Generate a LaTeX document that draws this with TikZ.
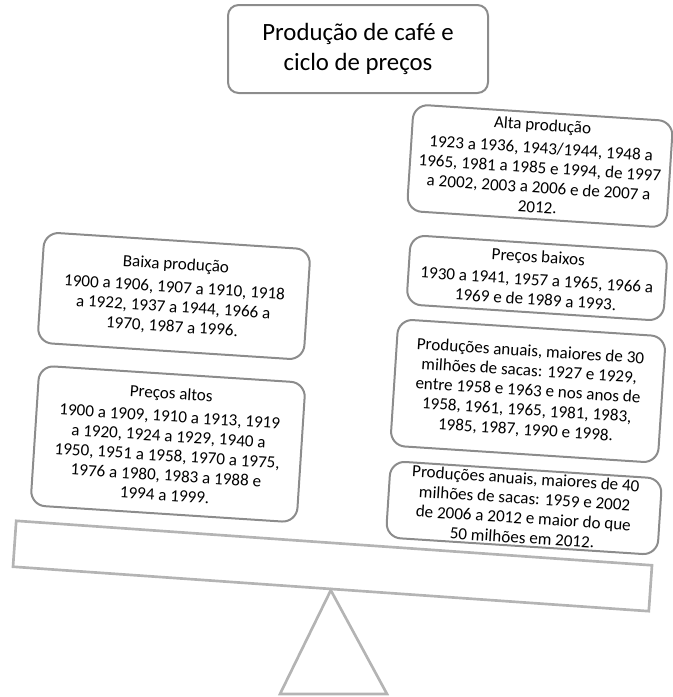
\documentclass[tikz,border=0pt]{standalone}
\usepackage{fontspec}
\setmainfont{Carlito}
\usepackage{tikz}
\definecolor{boxgray}{HTML}{8C8C8C}
\definecolor{plankgray}{HTML}{B4B4B4}
\tikzstyle{titlebox}=[rectangle, draw=boxgray, line width=1.5pt, rounded corners=8pt, align=center, font=\fontsize{18.6}{22.5}\selectfont]
\tikzstyle{databox}=[rectangle, draw=boxgray, line width=1.5pt, rounded corners=11pt, align=center, rotate=-3.7, inner sep=2pt, font=\fontsize{12.8}{14.8}\selectfont]
\tikzstyle{plankline}=[draw=plankgray, line width=2pt]

\begin{document}
\begin{tikzpicture}[x=0.75pt, y=-0.75pt]
                    \useasboundingbox (0,0) rectangle (673,697);
                    \node[titlebox, minimum width=195pt, minimum height=66pt] (title) at (358, 49) {Produção de café e\\ciclo de preços};
                    \node[databox, minimum width=195pt, minimum height=80pt] (alta) at (540, 166) {Alta produção\\[2.5pt]1923 a 1936, 1943/1944, 1948 a\\1965, 1981 a 1985 e 1994, de 1997\\a 2002, 2003 a 2006 e de 2007 a\\2012.};
                    \node[databox, minimum width=193pt, minimum height=52pt] (baixos) at (537, 278) {Preços baixos\\[2.5pt]1930 a 1941, 1957 a 1965, 1966 a\\1969 e de 1989 a 1993.};
                    \node[databox, minimum width=201pt, minimum height=95pt] (p30) at (528, 391) {Produções anuais, maiores de 30\\milhões de sacas: 1927 e 1929,\\entre 1958 e 1963 e nos anos de\\1958, 1961, 1965, 1981, 1983,\\1985, 1987, 1990 e 1998.};
                    \node[databox, minimum width=204pt, minimum height=56pt] (p40) at (524, 508) {Produções anuais, maiores de 40\\milhões de sacas: 1959 e 2002\\de 2006 a 2012 e maior do que\\50 milhões em 2012.};
                    \node[databox, minimum width=200pt, minimum height=83pt] (baixa) at (174, 296) {Baixa produção\\[2.5pt]1900 a 1906, 1907 a 1910, 1918\\a 1922, 1937 a 1944, 1966 a\\1970, 1987 a 1996.};
                    \node[databox, minimum width=200pt, minimum height=105pt] (altos) at (168, 444) {Preços altos\\[2.5pt]1900 a 1909, 1910 a 1913, 1919\\a 1920, 1924 a 1929, 1940 a\\1950, 1951 a 1958, 1970 a 1975,\\1976 a 1980, 1983 a 1988 e\\1994 a 1999.};
                    \node[rectangle, plankline, rotate=-4, minimum width=478pt, minimum height=34.5pt] (plank) at (332.5, 566) {};
                    \coordinate (b1) at (280, 694);
                    \coordinate (b2) at (387, 694);
                    \draw[plankline, line join=miter] (plank.south)--(b1)--(b2)--cycle;
                \end{tikzpicture}
\end{document}
